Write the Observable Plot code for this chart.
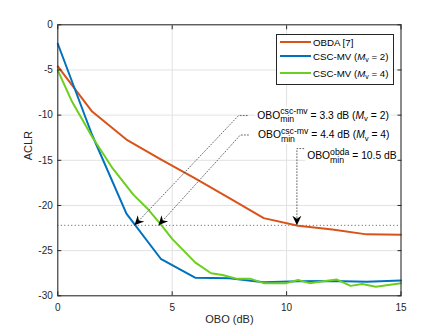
<!DOCTYPE html>
<html><head><meta charset="utf-8">
<script src="https://cdn.jsdelivr.net/npm/d3@7"></script>
<script src="https://cdn.jsdelivr.net/npm/@observablehq/plot@0.6"></script>
<style>
body{margin:0;background:#fff;}
#wrap{position:relative;width:443px;height:332px;font-family:"Liberation Sans",Arial,sans-serif;}
#legend{position:absolute;left:276px;top:34px;width:116px;height:49px;border:1px solid #262626;background:#fff;font-size:9.7px;color:#000;}
#legend .row{position:absolute;left:3px;height:14px;display:flex;align-items:center;white-space:nowrap;}
#legend .sw{width:31px;height:0;border-top:2px solid;margin-right:2px;}
#legend sub{font-size:7px;vertical-align:-2px;line-height:0;}
</style></head><body><div id="wrap"></div>
<script>
// ---- data ----
const obo = [0, 1.5, 3, 4.5, 6, 7.5, 9, 10.5, 12, 13.5, 15];
const obdaACLR = [-4.6, -9.6, -12.7, -14.9, -17.0, -19.2, -21.4, -22.25, -22.65, -23.2, -23.25];
const mv2ACLR = [-2.1, -12.2, -20.9, -25.9, -28.0, -28.05, -28.5, -28.4, -28.35, -28.45, -28.3];
const mv4OBO = [0, 0.6, 1.5, 2.4, 3.3, 3.9, 4.5, 5.0, 6.0, 6.7, 7.2, 7.8, 8.4, 9.0, 10.0, 10.5, 11.0, 11.6, 12.2, 12.8, 13.3, 13.9, 15];
const mv4ACLR = [-5.05, -8.4, -12.4, -15.9, -18.8, -20.3, -22.1, -23.7, -26.3, -27.5, -27.7, -28.1, -28.1, -28.6, -28.6, -28.25, -28.6, -28.4, -28.2, -28.9, -28.7, -29.0, -28.6];
const seriesNames = ["OBDA [7]", "CSC-MV (M_v = 2)", "CSC-MV (M_v = 4)"];
const seriesColors = ["#D95319", "#0072BD", "#6ccf1e"];
const xTicks = [0, 5, 10, 15];
const yTicks = [-30, -25, -20, -15, -10, -5, 0];
const targetACLR = -22.2;
// annotations
const annSup = ["csc-mv", "csc-mv", "obda"];
const annValue = ["3.3", "4.4", "10.5"];
const annMv = ["2", "4", ""];
const annTextX = [8.72, 8.75, 10.9];
const annTextY = [-10.05, -12.2, -14.5];
const leadX = [[8.28, 7.9, 3.35], [8.33, 7.98, 4.4], [10.75, 10.45, 10.45]];
const leadY = [[-10.05, -10.05, -22.2], [-12.2, -12.2, -22.2], [-13.7, -13.7, -22.2]];

// ---- tables ----
const lineData = [
  ...obo.map((x, i) => ({x, y: obdaACLR[i], s: 0})),
  ...obo.map((x, i) => ({x, y: mv2ACLR[i], s: 1})),
  ...mv4OBO.map((x, i) => ({x, y: mv4ACLR[i], s: 2}))
];
const leaders = leadX.flatMap((xs, k) => xs.map((x, j) => ({x, y: leadY[k][j], k})));
const annots = annSup.map((s, i) => ({x: annTextX[i], y: annTextY[i], key: "ann" + i}));

const base = {
  width: 443, height: 332,
  marginTop: 24.3, marginRight: 42.5, marginBottom: 36.7, marginLeft: 57.3,
  x: {domain: [0, 15]}, y: {domain: [-30, 0]},
  style: {fontFamily: "'Liberation Sans', Arial, sans-serif", fontSize: "10px", background: "white", color: "#262626"}
};
const p0 = Plot.plot({...base, marks: []});
const sx = p0.scale("x"), sy = p0.scale("y");
const tips = leadX.map((xs, k) => {
  const n = xs.length;
  const dx = sx.apply(xs[n-1]) - sx.apply(xs[n-2]);
  const dy = sy.apply(leadY[k][n-1]) - sy.apply(leadY[k][n-2]);
  return {x: xs[n-1], y: leadY[k][n-1], angle: Math.atan2(dx, -dy) * 180 / Math.PI};
});
const arrowHead = {draw(ctx) { ctx.moveTo(0, 0); ctx.lineTo(4.5, 9.5); ctx.lineTo(0, 6.5); ctx.lineTo(-4.5, 9.5); ctx.closePath(); }};

const plot = Plot.plot({
  ...base,
  marks: [
    Plot.gridX(xTicks, {stroke: "#e2e2e2", strokeOpacity: 1}),
    Plot.gridY(yTicks, {stroke: "#e2e2e2", strokeOpacity: 1}),
    Plot.ruleY([targetACLR], {x1: 0, x2: 15, stroke: "#444", strokeWidth: 0.9, strokeDasharray: "1,2.5"}),
    Plot.line(lineData, {x: "x", y: "y", z: "s", stroke: d => seriesColors[d.s], strokeWidth: 2}),
    Plot.line(leaders, {x: "x", y: "y", z: "k", stroke: "#444", strokeWidth: 0.8, strokeDasharray: "1,2"}),
    Plot.dot(tips, {x: "x", y: "y", rotate: "angle", symbol: arrowHead, fill: "black", stroke: "none", r: 5}),
    Plot.text(annots, {x: "x", y: "y", text: "key", textAnchor: "start", fontSize: 10.3, fill: "#000"}),
    Plot.axisX({ticks: xTicks, anchor: "bottom", tickSize: -4, tickPadding: 12, label: null, tickFormat: d => String(d), stroke: "#262626", fill: "#262626"}),
    Plot.axisX({ticks: xTicks, anchor: "top", tickSize: -4, label: null, stroke: "#262626", fill: "none"}),
    Plot.axisY({ticks: yTicks, anchor: "left", tickSize: -4, tickPadding: 9, label: null, tickFormat: d => String(d), stroke: "#262626", fill: "#262626"}),
    Plot.axisY({ticks: yTicks, anchor: "right", tickSize: -4, label: null, stroke: "#262626", fill: "none"}),
    Plot.frame({stroke: "#262626", strokeWidth: 1}),
    Plot.text(["ACLR"], {frameAnchor: "left", dx: -29, rotate: -90, fontSize: 11, fill: "#262626"}),
    Plot.text(["OBO (dB)"], {frameAnchor: "bottom", dy: 27, fontSize: 11, fill: "#262626"})
  ]
});
const wrap = document.getElementById("wrap");
wrap.appendChild(plot);

// rich annotation text (super/subscripts) with white background
d3.select(plot).selectAll("text").each(function() {
  const m = /^ann(\d)$/.exec(this.textContent);
  if (!m) return;
  const i = +m[1];
  const t = d3.select(this);
  t.text("");
  t.append("tspan").text("OBO");
  const s = t.append("tspan").attr("font-size", 8.7).attr("dy", -4.5).text(annSup[i]);
  const sw = s.node().getComputedTextLength();
  const b = t.append("tspan").attr("font-size", 8.7).attr("dx", -sw).attr("dy", 8).text("min");
  const bw = b.node().getComputedTextLength();
  t.append("tspan").attr("dx", Math.max(0, sw - bw)).attr("dy", -3.5).text(" = " + annValue[i] + " dB" + (annMv[i] ? " (" : ""));
  if (annMv[i]) {
    t.append("tspan").attr("font-style", "italic").text("M");
    t.append("tspan").attr("font-size", 7.7).attr("dy", 2.5).text("v");
    t.append("tspan").attr("dy", -2.5).text(" = " + annMv[i] + ")");
  }
  const bb = this.getBBox();
  const r = document.createElementNS("http://www.w3.org/2000/svg", "rect");
  r.setAttribute("x", bb.x - 2); r.setAttribute("y", bb.y);
  r.setAttribute("width", bb.width + 4); r.setAttribute("height", bb.height);
  r.setAttribute("fill", "white");
  if (this.getAttribute("transform")) r.setAttribute("transform", this.getAttribute("transform"));
  this.parentNode.insertBefore(r, this);
});

// legend (inside the axes, top right)
const lg = document.createElement("div");
lg.id = "legend";
const rowTops = [0, 14, 31];
seriesNames.forEach((name, i) => {
  const row = document.createElement("div");
  row.className = "row";
  row.style.top = rowTops[i] + "px";
  const sw = document.createElement("span");
  sw.className = "sw";
  sw.style.borderTopColor = seriesColors[i];
  row.appendChild(sw);
  const lab = document.createElement("span");
  lab.innerHTML = name.replace("M_v", "<i>M</i><sub>v</sub>");
  row.appendChild(lab);
  lg.appendChild(row);
});
wrap.appendChild(lg);
</script></body></html>
